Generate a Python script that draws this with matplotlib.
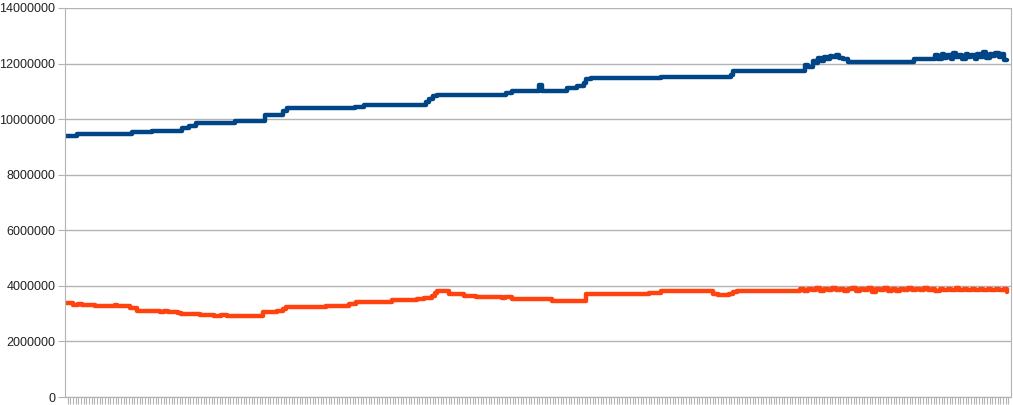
import numpy as np
import matplotlib
matplotlib.use("Agg")
import matplotlib.pyplot as plt
from matplotlib.ticker import FuncFormatter

# sample index (3 samples per category) and values in millions
blue_x = [0, 13, 75, 98, 132, 140, 148, 191, 225, 245, 250, 326, 337, 406, 410, 414, 419,
          497, 503, 534, 537, 565, 576, 584, 587, 592, 671, 750, 752, 833, 836, 840, 842,
          845, 848, 851, 854, 858, 861, 864, 868, 871, 876, 881, 956, 980, 983, 987, 990,
          993, 997, 1000, 1003, 1007, 1010, 1014, 1017, 1020, 1024, 1027, 1030, 1034, 1037,
          1041, 1044, 1047, 1051, 1054, 1057, 1060]
blue_y = [9.40, 9.47, 9.54, 9.58, 9.68, 9.75, 9.86, 9.94, 10.15, 10.28, 10.39, 10.45, 10.51,
          10.60, 10.72, 10.82, 10.87, 10.95, 11.02, 11.24, 11.02, 11.11, 11.20, 11.30, 11.44,
          11.47, 11.50, 11.60, 11.72, 11.95, 11.88, 11.86, 12.10, 12.03, 12.20, 12.10, 12.25,
          12.15, 12.28, 12.24, 12.30, 12.20, 12.15, 12.07, 12.15, 12.30, 12.18, 12.35, 12.20,
          12.32, 12.17, 12.38, 12.25, 12.30, 12.18, 12.36, 12.22, 12.30, 12.16, 12.33, 12.25,
          12.40, 12.20, 12.35, 12.26, 12.38, 12.22, 12.35, 12.14, 12.12]

orange_x = [0, 9, 15, 19, 28, 34, 51, 56, 59, 73, 77, 81, 95, 107, 112, 116, 120, 127, 131,
            146, 152, 159, 168, 176, 182, 221, 223, 239, 245, 249, 294, 320, 328, 368, 396,
            404, 413, 416, 419, 430, 432, 449, 463, 488, 492, 495, 503, 548, 587, 657, 671,
            730, 735, 747, 752, 756, 827, 832, 836, 841, 845, 850, 854, 859, 863, 868, 872,
            877, 881, 886, 890, 895, 899, 904, 908, 913, 917, 922, 926, 931, 935, 940, 944,
            949, 953, 958, 962, 967, 971, 976, 980, 985, 989, 994, 998, 1003, 1007, 1012,
            1016, 1021, 1025, 1030, 1034, 1039, 1043, 1048, 1052, 1057, 1060]
orange_y = [3.37, 3.31, 3.34, 3.30, 3.32, 3.29, 3.27, 3.30, 3.27, 3.22, 3.19, 3.11, 3.09,
            3.07, 3.10, 3.05, 3.07, 3.02, 2.98, 3.00, 2.96, 2.95, 2.93, 2.95, 2.92, 2.92,
            3.06, 3.10, 3.18, 3.23, 3.27, 3.35, 3.43, 3.49, 3.53, 3.58, 3.65, 3.75, 3.83,
            3.83, 3.70, 3.65, 3.60, 3.60, 3.55, 3.60, 3.52, 3.47, 3.71, 3.73, 3.80, 3.72,
            3.67, 3.72, 3.79, 3.83, 3.88, 3.82, 3.90, 3.85, 3.92, 3.80, 3.89, 3.86, 3.93,
            3.84, 3.90, 3.81, 3.88, 3.92, 3.83, 3.89, 3.85, 3.93, 3.79, 3.88, 3.84, 3.91,
            3.82, 3.87, 3.80, 3.90, 3.85, 3.92, 3.86, 3.89, 3.84, 3.91, 3.86, 3.88, 3.83,
            3.90, 3.85, 3.89, 3.86, 3.91, 3.84, 3.88, 3.85, 3.90, 3.86, 3.88, 3.85, 3.89,
            3.86, 3.88, 3.84, 3.87, 3.78]

n_cat = 355
samples_per_cat = 3

plt.rcParams['font.family'] = ['Liberation Sans', 'DejaVu Sans']

fig = plt.figure(figsize=(10.13, 4.05), dpi=100)
ax = fig.add_axes([65 / 1013, 8 / 405, 946 / 1013, 389 / 405])

bx = np.array(blue_x) / samples_per_cat
ox = np.array(orange_x) / samples_per_cat
ax.plot(bx, np.array(blue_y) * 1e6, color='#004586', lw=3.2, drawstyle='steps-post',
        solid_joinstyle='round', solid_capstyle='round')
ax.plot(ox, np.array(orange_y) * 1e6, color='#ff420e', lw=3.2, drawstyle='steps-post',
        solid_joinstyle='round', solid_capstyle='round')

ax.set_xlim(0, n_cat)
ax.set_ylim(0, 14000000)
ax.set_yticks(np.arange(0, 14000001, 2000000))
ax.yaxis.set_major_formatter(FuncFormatter(lambda v, p: f"{int(v)}"))
ax.set_xticks(np.arange(1, n_cat))
ax.set_xticklabels([])

ax.grid(axis='y', color='#b3b3b3', lw=1)
ax.set_axisbelow(True)
for s in ['left', 'bottom', 'right']:
    ax.spines[s].set_color('#b3b3b3')
ax.spines['top'].set_visible(False)
ax.tick_params(axis='y', length=5, color='#b3b3b3', labelsize=9, labelcolor='#222222', pad=2)
ax.tick_params(axis='x', length=5, width=0.8, color='#b3b3b3')

fig.savefig('out.png', dpi=100)
